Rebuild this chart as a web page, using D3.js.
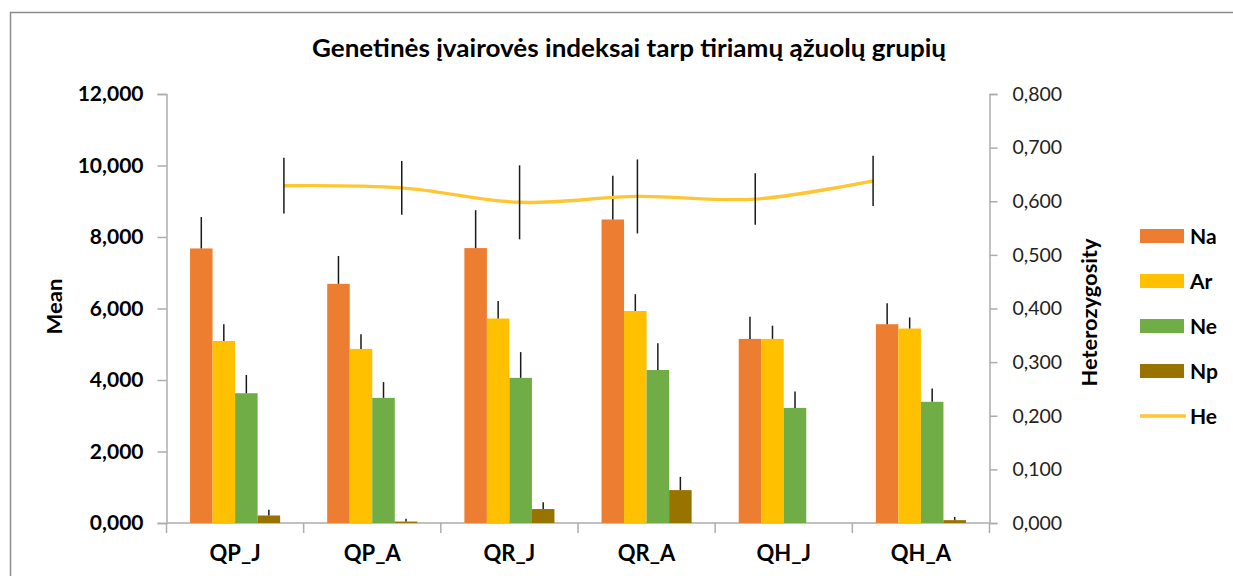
<!DOCTYPE html>
<html>
<head>
<meta charset="utf-8">
<script src="https://cdn.jsdelivr.net/npm/d3@7"></script>
<style>
  html, body { margin: 0; padding: 0; background: #fff; }
  svg { display: block; font-family: Lato, "Open Sans", sans-serif; }
</style>
</head>
<body>
<svg id="chart" width="1233" height="576"></svg>
<script>
// Oak groups and genetic diversity indices
const groups = ["QP_J", "QP_A", "QR_J", "QR_A", "QH_J", "QH_A"];
const seriesNames = ["Na", "Ar", "Ne", "Np"];
const seriesColors = ["#ED7D31", "#FFC000", "#70AD47", "#997300"];

const naValues = [7.68, 6.69, 7.69, 8.49, 5.15, 5.56];
const naErrors = [0.88, 0.78, 1.06, 1.22, 0.62, 0.59];
const arValues = [5.09, 4.87, 5.72, 5.93, 5.15, 5.44];
const arErrors = [0.47, 0.41, 0.49, 0.47, 0.37, 0.31];
const neValues = [3.63, 3.50, 4.06, 4.28, 3.22, 3.39];
const neErrors = [0.51, 0.44, 0.72, 0.75, 0.46, 0.37];
const npValues = [0.21, 0.04, 0.39, 0.92, 0.00, 0.08];
const npErrors = [0.16, 0.08, 0.19, 0.37, 0.00, 0.09];

const heValues = [0.629, 0.625, 0.598, 0.609, 0.604, 0.638];
const heErrors = [0.052, 0.050, 0.069, 0.069, 0.048, 0.047];

const leftTicks = [0, 2, 4, 6, 8, 10, 12];
const rightTicks = [0, 0.1, 0.2, 0.3, 0.4, 0.5, 0.6, 0.7, 0.8];

const titleText = "Genetinės įvairovės indeksai tarp tiriamų ąžuolų grupių";
const leftTitle = "Mean";
const rightTitle = "Heterozygosity";
const lineName = "He";
const lineColor = "#FFC633";

const barSeries = [
  { name: "Na", values: naValues, errors: naErrors },
  { name: "Ar", values: arValues, errors: arErrors },
  { name: "Ne", values: neValues, errors: neErrors },
  { name: "Np", values: npValues, errors: npErrors }
];

const locale = d3.formatLocale({ decimal: ",", thousands: " ", grouping: [3], currency: ["", ""] });
const fmt3 = locale.format(".3f");

const svg = d3.select("#chart");
const plot = { left: 166.5, right: 989.5, top: 94, bottom: 523 };
const axisColor = "#ADADAD";

// outer chart frame
svg.append("rect")
  .attr("x", 10.5).attr("y", 12.5)
  .attr("width", 1240).attr("height", 600)
  .attr("fill", "#fff")
  .attr("stroke", "#8C8C8C").attr("stroke-width", 1.5);

// scales
const x0 = d3.scaleBand().domain(groups).range([plot.left, plot.right]).padding(0);
const x1 = d3.scaleBand().domain(seriesNames).range([0, x0.bandwidth()]).paddingInner(0).paddingOuter(1.045);
const yLeft = d3.scaleLinear().domain([0, 12]).range([plot.bottom, plot.top]);
const yRight = d3.scaleLinear().domain([0, 0.8]).range([plot.bottom, plot.top]);
// secondary category axis used by the line series
const xLine = d3.scaleBand().domain(groups).range([225, 932]).padding(0);
const color = d3.scaleOrdinal().domain(seriesNames).range(seriesColors);

// title
svg.append("text")
  .attr("x", 629).attr("y", 57)
  .attr("text-anchor", "middle")
  .attr("font-size", 25).attr("font-weight", 700)
  .attr("fill", "#000")
  .attr("textLength", 634).attr("lengthAdjust", "spacingAndGlyphs")
  .text(titleText);

// left axis
const gLeft = svg.append("g").attr("transform", `translate(${plot.left},0)`)
  .call(d3.axisLeft(yLeft).tickValues(leftTicks).tickFormat(fmt3).tickSize(9).tickPadding(14));
gLeft.selectAll("text").attr("font-size", 21).attr("font-weight", 700).attr("fill", "#000")
  .attr("font-family", "Lato, sans-serif");

// right axis
const gRight = svg.append("g").attr("transform", `translate(${plot.right},0)`)
  .call(d3.axisRight(yRight).tickValues(rightTicks).tickFormat(fmt3).tickSize(8).tickPadding(15));
gRight.selectAll("text").attr("font-size", 19.5).attr("font-weight", 400).attr("fill", "#222")
  .attr("font-family", "Lato, sans-serif");

// bottom axis with ticks between categories
const gBottom = svg.append("g").attr("transform", `translate(0,${plot.bottom})`);
gBottom.append("line")
  .attr("x1", plot.left).attr("x2", plot.right)
  .attr("stroke", axisColor).attr("stroke-width", 1.5);
const boundaries = groups.map(g => x0(g)).concat([x0(groups[groups.length - 1]) + x0.bandwidth()]);
gBottom.selectAll("line.tick").data(boundaries).enter().append("line")
  .attr("class", "tick")
  .attr("x1", d => d).attr("x2", d => d)
  .attr("y1", 0).attr("y2", 10)
  .attr("stroke", axisColor).attr("stroke-width", 1.5);
gBottom.selectAll("text").data(groups).enter().append("text")
  .attr("x", d => x0(d) + x0.bandwidth() / 2)
  .attr("y", 38)
  .attr("text-anchor", "middle")
  .attr("font-size", 22).attr("font-weight", 700).attr("fill", "#000")
  .text(d => d);

[gLeft, gRight].forEach(g => {
  g.select(".domain").attr("stroke", axisColor).attr("stroke-width", 1.5);
  g.selectAll(".tick line").attr("stroke", axisColor).attr("stroke-width", 1.5);
});

// axis titles
svg.append("text")
  .attr("transform", `translate(62,${(plot.top + plot.bottom) / 2 - 2}) rotate(-90)`)
  .attr("text-anchor", "middle")
  .attr("font-size", 21).attr("font-weight", 700).attr("fill", "#000")
  .attr("textLength", 56).attr("lengthAdjust", "spacingAndGlyphs")
  .text(leftTitle);
svg.append("text")
  .attr("transform", `translate(1097,${(plot.top + plot.bottom) / 2 + 4}) rotate(-90)`)
  .attr("text-anchor", "middle")
  .attr("font-size", 20).attr("font-weight", 700).attr("fill", "#000")
  .attr("textLength", 148).attr("lengthAdjust", "spacingAndGlyphs")
  .text(rightTitle);

// bars
const barData = [];
barSeries.forEach(s => {
  groups.forEach((g, i) => {
    barData.push({ group: g, series: s.name, value: s.values[i], error: s.errors[i] });
  });
});

svg.append("g").selectAll("rect").data(barData).enter().append("rect")
  .attr("x", d => x0(d.group) + x1(d.series))
  .attr("y", d => yLeft(d.value))
  .attr("width", x1.bandwidth())
  .attr("height", d => yLeft(0) - yLeft(d.value))
  .attr("fill", d => color(d.series));

// bar error bars (plus direction)
svg.append("g").selectAll("line").data(barData.filter(d => d.value > 0)).enter().append("line")
  .attr("x1", d => x0(d.group) + x1(d.series) + x1.bandwidth() / 2)
  .attr("x2", d => x0(d.group) + x1(d.series) + x1.bandwidth() / 2)
  .attr("y1", d => yLeft(d.value))
  .attr("y2", d => yLeft(d.value + d.error))
  .attr("stroke", "#1a1a1a").attr("stroke-width", 1.5);

// He line on the secondary axis
const heData = groups.map((g, i) => ({ group: g, value: heValues[i], error: heErrors[i] }));
const lx = d => xLine(d.group) + xLine.bandwidth() / 2;

svg.append("path")
  .datum(heData)
  .attr("fill", "none")
  .attr("stroke", lineColor)
  .attr("stroke-width", 3.4)
  .attr("d", d3.line().x(lx).y(d => yRight(d.value)).curve(d3.curveCatmullRom.alpha(0.5)));

svg.append("g").selectAll("line").data(heData).enter().append("line")
  .attr("x1", lx).attr("x2", lx)
  .attr("y1", d => yRight(d.value - d.error))
  .attr("y2", d => yRight(d.value + d.error))
  .attr("stroke", "#1a1a1a").attr("stroke-width", 1.5);

// legend
const legendItems = seriesNames.map(n => ({ name: n, type: "bar" })).concat([{ name: lineName, type: "line" }]);
const legend = svg.append("g").attr("transform", "translate(1140,236)");
const rows = legend.selectAll("g").data(legendItems).enter().append("g")
  .attr("transform", (d, i) => `translate(0,${i * 45})`);
rows.filter(d => d.type === "bar").append("rect")
  .attr("x", 0).attr("y", -7).attr("width", 44).attr("height", 14)
  .attr("fill", d => color(d.name));
rows.filter(d => d.type === "line").append("line")
  .attr("x1", 0).attr("x2", 46).attr("y1", 0).attr("y2", 0)
  .attr("stroke", lineColor).attr("stroke-width", 3.4);
rows.append("text")
  .attr("x", 50).attr("y", 8)
  .attr("font-size", 21).attr("font-weight", 700).attr("fill", "#000")
  .text(d => d.name);
</script>
</body>
</html>
